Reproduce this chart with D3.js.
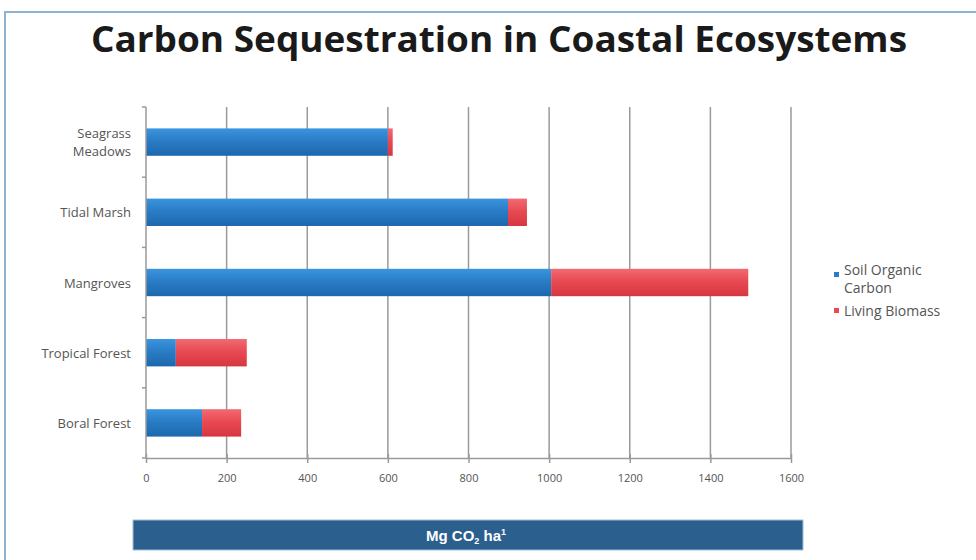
<!DOCTYPE html>
<html lang="en">
<head>
    <meta charset="UTF-8">
    <title>Carbon Sequestration in Coastal Ecosystems</title>
    <script src="https://d3js.org/d3.v7.min.js"></script>
    <style>
        body { margin: 0; background: #fff; }
        text { font-family: "Open Sans", sans-serif; }
    </style>
</head>
<body>
    <div class="canvas"></div>
    <script>
      // data
      const categories = ['Seagrass Meadows', 'Tidal Marsh', 'Mangroves', 'Tropical Forest', 'Boral Forest'];
      const soilCarbon = [600, 898, 1005, 74, 139];
      const livingBiomass = [12, 47, 489, 176, 97];
      const seriesNames = ['Soil Organic Carbon', 'Living Biomass'];
      const xTicks = [0, 200, 400, 600, 800, 1000, 1200, 1400, 1600];

      const width = 976;
      const height = 560;
      const [mt, ml] = [107, 146];
      const graphWidth = 645;
      const graphHeight = 351;

      const svg = d3.select('.canvas')
                      .append('svg')
                      .attr('width', width)
                      .attr('height', height);

      // frame
      svg.append('rect')
        .attr('x', 5).attr('y', 12)
        .attr('width', width + 10).attr('height', height)
        .attr('fill', 'none')
        .attr('stroke', '#8fb3d3')
        .attr('stroke-width', 2);

      svg.append('text')
        .attr('x', 499).attr('y', 52)
        .attr('text-anchor', 'middle')
        .attr('textLength', 816)
        .attr('lengthAdjust', 'spacingAndGlyphs')
        .style('font-family', '"Open Sans", sans-serif')
        .style('font-weight', 'bold')
        .style('font-size', '35px')
        .attr('fill', '#1a1a1a')
        .text('Carbon Sequestration in Coastal Ecosystems');

      const defs = svg.append('defs');
      const grads = [['gBlue', '#3a95de', '#2a7cc6', '#1d68ad'], ['gRed', '#f26a72', '#e84a53', '#d6363f']];
      grads.forEach(([id, c0, c1, c2]) => {
        const g = defs.append('linearGradient').attr('id', id)
          .attr('x1', 0).attr('y1', 0).attr('x2', 0).attr('y2', 1);
        g.append('stop').attr('offset', '0%').attr('stop-color', c0);
        g.append('stop').attr('offset', '45%').attr('stop-color', c1);
        g.append('stop').attr('offset', '100%').attr('stop-color', c2);
      });

      const graph = svg.append('g')
                        .attr('transform', `translate(${ml}, ${mt})`);

      const x = d3.scaleLinear()
                    .domain([0, 1600])
                    .range([0, graphWidth]);

      const y = d3.scaleBand()
                    .domain(categories)
                    .range([0, graphHeight])
                    .paddingInner(0.61)
                    .paddingOuter(0.305);

      // gridlines
      graph.selectAll('.grid')
        .data(xTicks.slice(1))
        .enter()
        .append('line')
        .attr('x1', d => x(d)).attr('x2', d => x(d))
        .attr('y1', 0).attr('y2', graphHeight)
        .attr('stroke', '#9a9a9a')
        .attr('stroke-width', 1.5);

      const rows = categories.map((c, i) => ({ cat: c, soil: soilCarbon[i], living: livingBiomass[i] }));

      graph.selectAll('.soil')
        .data(rows)
        .enter()
        .append('rect')
        .attr('x', x(0))
        .attr('y', d => y(d.cat))
        .attr('width', d => x(d.soil) - x(0))
        .attr('height', y.bandwidth())
        .attr('fill', 'url(#gBlue)');

      graph.selectAll('.living')
        .data(rows)
        .enter()
        .append('rect')
        .attr('x', d => x(d.soil))
        .attr('y', d => y(d.cat))
        .attr('width', d => x(d.soil + d.living) - x(d.soil))
        .attr('height', y.bandwidth())
        .attr('fill', 'url(#gRed)');

      // x axis
      const xAxis = d3.axisBottom(x)
                        .tickValues(xTicks)
                        .tickFormat(d3.format('d'))
                        .tickSize(5)
                        .tickSizeOuter(0);
      const xAxisG = graph.append('g')
                          .attr('transform', `translate(0, ${graphHeight})`)
                          .call(xAxis);
      xAxisG.select('.domain').attr('stroke', '#9a9a9a').attr('stroke-width', 1.5);
      xAxisG.selectAll('.tick line').attr('stroke', '#9a9a9a').attr('stroke-width', 1.5).attr('y1', -4);
      xAxisG.selectAll('.tick text')
        .attr('y', 16)
        .style('font-family', '"Open Sans", sans-serif')
        .style('font-size', '11px')
        .attr('fill', '#555');

      // y axis line with boundary ticks
      graph.append('line')
        .attr('x1', 0).attr('x2', 0).attr('y1', 0).attr('y2', graphHeight)
        .attr('stroke', '#9a9a9a').attr('stroke-width', 1.5);
      const step = y.step();
      graph.selectAll('.ytick')
        .data(d3.range(categories.length + 1))
        .enter()
        .append('line')
        .attr('x1', -4).attr('x2', 0)
        .attr('y1', i => i * step).attr('y2', i => i * step)
        .attr('stroke', '#9a9a9a').attr('stroke-width', 1.5);

      // category labels
      const labelLines = { 'Seagrass Meadows': ['Seagrass', 'Meadows'] };
      rows.forEach(d => {
        const lines = labelLines[d.cat] || [d.cat];
        const cy = y(d.cat) + y.bandwidth() / 2;
        lines.forEach((l, j) => {
          graph.append('text')
            .attr('text-anchor', 'end')
            .style('font-size', '13px')
            .attr('fill', '#555')
            .attr('x', -15)
            .attr('y', cy + 5 + (j - (lines.length - 1) / 2) * 18)
            .text(l);
        });
      });

      // legend
      const legend = svg.append('g').attr('transform', 'translate(834, 0)');
      const legendRows = [
        { name: seriesNames[0], lines: ['Soil Organic', 'Carbon'], fill: '#2a7cc6', y: 275, ty: 275 },
        { name: seriesNames[1], lines: ['Living Biomass'], fill: '#e84a53', y: 311, ty: 316 }
      ];
      legendRows.forEach(r => {
        legend.append('rect')
          .attr('x', 0).attr('y', r.y - 3)
          .attr('width', 5).attr('height', 5)
          .attr('fill', r.fill);
        r.lines.forEach((l, j) => {
          legend.append('text')
            .style('font-size', '14px')
            .attr('fill', '#555')
            .attr('x', 10)
            .attr('y', r.ty + j * 18)
            .text(l);
        });
      });

      // axis title bar
      svg.append('rect')
        .attr('x', 133).attr('y', 520)
        .attr('width', 670).attr('height', 30)
        .attr('fill', '#2a5f8e')
        .attr('stroke', '#9cc0dc')
        .attr('stroke-width', 1);
      const unit = svg.append('text')
        .attr('x', 466).attr('y', 541)
        .attr('text-anchor', 'middle')
        .style('font-family', '"Liberation Sans", Arial, sans-serif')
        .style('font-weight', 'bold')
        .style('font-size', '15px')
        .attr('fill', '#fff');
      unit.append('tspan').text('Mg CO');
      unit.append('tspan').attr('dy', 3).style('font-size', '9px').text('2');
      unit.append('tspan').attr('dy', -3).text(' ha');
      unit.append('tspan').attr('dy', -6).style('font-size', '9px').text('1');
    </script>
</body>
</html>
